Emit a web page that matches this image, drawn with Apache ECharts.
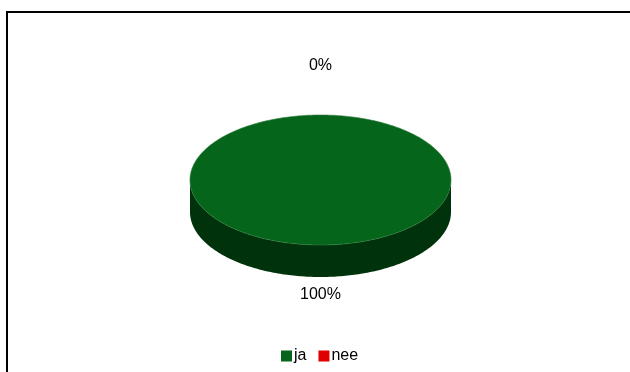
<!DOCTYPE html>
<html>
<head>
<meta charset="utf-8">
<script src="https://cdn.jsdelivr.net/npm/echarts@6/dist/echarts.min.js"></script>
<style>
html,body{margin:0;padding:0;background:#fff;}
#chart{width:630px;height:372px;}
</style>
</head>
<body>
<div id="chart"></div>
<script>
// ---- data ----
var categories = ['ja', 'nee'];
var values = [100, 0];
var colors = ['#05651a', '#e00000'];
var sideColors = ['#00330b', '#800000'];

var total = values.reduce(function (a, b) { return a + b; }, 0);

// pie geometry (styling)
var CX = 320.5, CY = 180, RX = 130.5, RY = 65, DEPTH = 32;

function pt(theta, dy) {
  return [CX + RX * Math.sin(theta), CY - RY * Math.cos(theta) + (dy || 0)];
}

function makeRender(idx) {
  return function (params, api) {
    var before = 0;
    for (var i = 0; i < idx; i++) before += values[i];
    var v = api.value(0);
    var start = before / total * Math.PI * 2;
    var end = (before + v) / total * Math.PI * 2;
    var children = [];
    var steps = 180;
    if (end - start > 1e-9) {
      var s = Math.max(start, Math.PI / 2), e = Math.min(end, Math.PI * 1.5);
      if (e > s) {
        var pts = [];
        var n = Math.max(2, Math.ceil((e - s) / (Math.PI * 2) * steps * 2));
        for (var k = 0; k <= n; k++) pts.push(pt(s + (e - s) * k / n, 0));
        for (var k2 = n; k2 >= 0; k2--) pts.push(pt(s + (e - s) * k2 / n, DEPTH));
        children.push({ type: 'polygon', shape: { points: pts }, style: { fill: sideColors[idx] }, z2: 1 });
      }
      var tp = [];
      var full = (end - start) >= Math.PI * 2 - 1e-9;
      if (!full) tp.push([CX, CY]);
      var m = Math.max(2, Math.ceil((end - start) / (Math.PI * 2) * steps * 2));
      for (var j = 0; j <= m; j++) tp.push(pt(start + (end - start) * j / m, 0));
      children.push({ type: 'polygon', shape: { points: tp }, style: { fill: colors[idx], stroke: '#2f7a3a', lineWidth: 0.6 }, z2: 2 });
    }
    var mid = (start + end) / 2;
    var c = Math.cos(mid), sn = Math.sin(mid);
    var d = c > 0 ? 49 : 18;
    var lx = CX + (RX + d) * sn;
    var ly = CY - (RY + d) * c + (c < 0 ? DEPTH : 0);
    children.push({
      type: 'text', z2: 3,
      style: {
        text: Math.round(v / total * 100) + '%',
        x: lx, y: ly, align: 'center', verticalAlign: 'middle',
        fill: '#000', font: '16px "Liberation Sans", Arial, sans-serif'
      }
    });
    return { type: 'group', children: children };
  };
}

var series = categories.map(function (name, i) {
  return {
    type: 'custom', name: name, coordinateSystem: 'none',
    color: colors[i],
    data: [[values[i]]],
    renderItem: makeRender(i),
    silent: true, animation: false
  };
});

var chart = echarts.init(document.getElementById('chart'), null, { renderer: 'canvas' });
chart.setOption({
  backgroundColor: '#fff',
  animation: false,
  graphic: [{
    type: 'rect', shape: { x: 7, y: 12, width: 660, height: 400 },
    style: { fill: 'none', stroke: '#000', lineWidth: 2 }, z: -1
  }],
  legend: {
    data: categories.map(function (n, i) { return { name: n, icon: 'rect', itemStyle: { color: colors[i] } }; }),
    left: 276, top: 343,
    itemWidth: 11, itemHeight: 11, itemGap: 12,
    selectedMode: false,
    textStyle: { fontFamily: '"Liberation Sans", Arial, sans-serif', fontSize: 16, color: '#000', padding: [0, 0, 0, -3] }
  },
  series: series
});
</script>
</body>
</html>
